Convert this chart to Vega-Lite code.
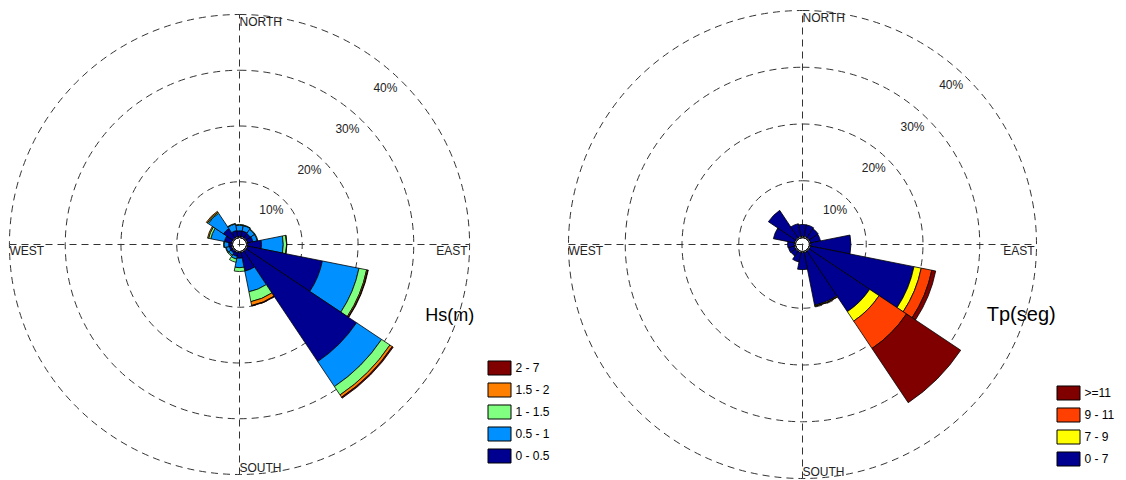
{
  "$schema": "https://vega.github.io/schema/vega-lite/v6.json",
  "autosize": {"type": "pad"},
  "padding": {"left": 7.5, "top": 8.5, "right": 0, "bottom": 0},
  "background": "white",
  "config": {"view": {"stroke": null}, "font": "Liberation Sans"},
  "bounds": "flush",
  "center": true,
  "spacing": 99,
  "datasets": {
    "hs": [
      {"dir": 0, "cls": "0 - 0.5", "ord": 1, "pct": 1.2}, {"dir": 0, "cls": "0.5 - 1", "ord": 2, "pct": 1.0}, {"dir": 0, "cls": "1 - 1.5", "ord": 3, "pct": 0.15},
      {"dir": 22.5, "cls": "0 - 0.5", "ord": 1, "pct": 1.2}, {"dir": 22.5, "cls": "0.5 - 1", "ord": 2, "pct": 1.0}, {"dir": 22.5, "cls": "1 - 1.5", "ord": 3, "pct": 0.1},
      {"dir": 45, "cls": "0 - 0.5", "ord": 1, "pct": 1.1}, {"dir": 45, "cls": "0.5 - 1", "ord": 2, "pct": 0.9}, {"dir": 45, "cls": "1 - 1.5", "ord": 3, "pct": 0.1},
      {"dir": 67.5, "cls": "0 - 0.5", "ord": 1, "pct": 1.2}, {"dir": 67.5, "cls": "0.5 - 1", "ord": 2, "pct": 0.8}, {"dir": 67.5, "cls": "1 - 1.5", "ord": 3, "pct": 0.1},
      {"dir": 90, "cls": "0 - 0.5", "ord": 1, "pct": 2.7}, {"dir": 90, "cls": "0.5 - 1", "ord": 2, "pct": 3.9}, {"dir": 90, "cls": "1 - 1.5", "ord": 3, "pct": 0.6}, {"dir": 90, "cls": "1.5 - 2", "ord": 4, "pct": 0.05},
      {"dir": 112.5, "cls": "0 - 0.5", "ord": 1, "pct": 13.9}, {"dir": 112.5, "cls": "0.5 - 1", "ord": 2, "pct": 6.7}, {"dir": 112.5, "cls": "1 - 1.5", "ord": 3, "pct": 1.4}, {"dir": 112.5, "cls": "1.5 - 2", "ord": 4, "pct": 0.2}, {"dir": 112.5, "cls": "2 - 7", "ord": 5, "pct": 0.1},
      {"dir": 135, "cls": "0 - 0.5", "ord": 1, "pct": 24.0}, {"dir": 135, "cls": "0.5 - 1", "ord": 2, "pct": 5.4}, {"dir": 135, "cls": "1 - 1.5", "ord": 3, "pct": 1.8}, {"dir": 135, "cls": "1.5 - 2", "ord": 4, "pct": 0.5}, {"dir": 135, "cls": "2 - 7", "ord": 5, "pct": 0.2},
      {"dir": 157.5, "cls": "0 - 0.5", "ord": 1, "pct": 3.6}, {"dir": 157.5, "cls": "0.5 - 1", "ord": 2, "pct": 3.8}, {"dir": 157.5, "cls": "1 - 1.5", "ord": 3, "pct": 1.8}, {"dir": 157.5, "cls": "1.5 - 2", "ord": 4, "pct": 0.7}, {"dir": 157.5, "cls": "2 - 7", "ord": 5, "pct": 0.1},
      {"dir": 180, "cls": "0 - 0.5", "ord": 1, "pct": 1.2}, {"dir": 180, "cls": "0.5 - 1", "ord": 2, "pct": 1.7}, {"dir": 180, "cls": "1 - 1.5", "ord": 3, "pct": 0.7},
      {"dir": 202.5, "cls": "0 - 0.5", "ord": 1, "pct": 0.9}, {"dir": 202.5, "cls": "0.5 - 1", "ord": 2, "pct": 0.5}, {"dir": 202.5, "cls": "1 - 1.5", "ord": 3, "pct": 0.6},
      {"dir": 225, "cls": "0 - 0.5", "ord": 1, "pct": 0.6}, {"dir": 225, "cls": "0.5 - 1", "ord": 2, "pct": 0.5}, {"dir": 225, "cls": "1 - 1.5", "ord": 3, "pct": 0.2},
      {"dir": 247.5, "cls": "0 - 0.5", "ord": 1, "pct": 0.6}, {"dir": 247.5, "cls": "0.5 - 1", "ord": 2, "pct": 0.6}, {"dir": 247.5, "cls": "1 - 1.5", "ord": 3, "pct": 0.1},
      {"dir": 270, "cls": "0 - 0.5", "ord": 1, "pct": 0.7}, {"dir": 270, "cls": "0.5 - 1", "ord": 2, "pct": 0.8}, {"dir": 270, "cls": "1 - 1.5", "ord": 3, "pct": 0.1},
      {"dir": 292.5, "cls": "0 - 0.5", "ord": 1, "pct": 1.5}, {"dir": 292.5, "cls": "0.5 - 1", "ord": 2, "pct": 2.5}, {"dir": 292.5, "cls": "1 - 1.5", "ord": 3, "pct": 0.4}, {"dir": 292.5, "cls": "1.5 - 2", "ord": 4, "pct": 0.2},
      {"dir": 315, "cls": "0 - 0.5", "ord": 1, "pct": 2.2}, {"dir": 315, "cls": "0.5 - 1", "ord": 2, "pct": 3.3}, {"dir": 315, "cls": "1 - 1.5", "ord": 3, "pct": 0.2}, {"dir": 315, "cls": "1.5 - 2", "ord": 4, "pct": 0.2},
      {"dir": 337.5, "cls": "0 - 0.5", "ord": 1, "pct": 1.3}, {"dir": 337.5, "cls": "0.5 - 1", "ord": 2, "pct": 1.2}, {"dir": 337.5, "cls": "1 - 1.5", "ord": 3, "pct": 0.1}
    ],
    "tp": [
      {"dir": 0, "cls": "0 - 7", "ord": 1, "pct": 2.3},
      {"dir": 22.5, "cls": "0 - 7", "ord": 1, "pct": 2.3},
      {"dir": 45, "cls": "0 - 7", "ord": 1, "pct": 2.1},
      {"dir": 67.5, "cls": "0 - 7", "ord": 1, "pct": 2.0},
      {"dir": 90, "cls": "0 - 7", "ord": 1, "pct": 7.3},
      {"dir": 112.5, "cls": "0 - 7", "ord": 1, "pct": 18.8}, {"dir": 112.5, "cls": "7 - 9", "ord": 2, "pct": 1.3}, {"dir": 112.5, "cls": "9 - 11", "ord": 3, "pct": 1.9}, {"dir": 112.5, "cls": ">=11", "ord": 4, "pct": 0.7},
      {"dir": 135, "cls": "0 - 7", "ord": 1, "pct": 13.0}, {"dir": 135, "cls": "7 - 9", "ord": 2, "pct": 2.0}, {"dir": 135, "cls": "9 - 11", "ord": 3, "pct": 5.8}, {"dir": 135, "cls": ">=11", "ord": 4, "pct": 11.5},
      {"dir": 157.5, "cls": "0 - 7", "ord": 1, "pct": 9.7}, {"dir": 157.5, "cls": "7 - 9", "ord": 2, "pct": 0.15}, {"dir": 157.5, "cls": "9 - 11", "ord": 3, "pct": 0.05},
      {"dir": 180, "cls": "0 - 7", "ord": 1, "pct": 3.2},
      {"dir": 202.5, "cls": "0 - 7", "ord": 1, "pct": 1.9},
      {"dir": 225, "cls": "0 - 7", "ord": 1, "pct": 1.2},
      {"dir": 247.5, "cls": "0 - 7", "ord": 1, "pct": 1.3},
      {"dir": 270, "cls": "0 - 7", "ord": 1, "pct": 1.4},
      {"dir": 292.5, "cls": "0 - 7", "ord": 1, "pct": 4.0},
      {"dir": 315, "cls": "0 - 7", "ord": 1, "pct": 6.0},
      {"dir": 337.5, "cls": "0 - 7", "ord": 1, "pct": 2.5}
    ]
  },
  "hconcat": [
    {
      "width": 460,
      "height": 460,
      "layer": [
        {
          "data": {"values": [{"ring": 10}, {"ring": 20}, {"ring": 30}, {"ring": 40}]},
          "mark": {"type": "arc", "filled": false, "stroke": "#333", "strokeWidth": 1, "strokeDash": [7, 5]},
          "encoding": {
            "theta": {"datum": 0, "type": "quantitative", "stack": null, "scale": {"type": "linear", "domain": [0, 360], "range": [0, 6.283185307179586], "zero": false}},
            "theta2": {"datum": 360},
            "radius": {"field": "ring", "type": "quantitative", "stack": null, "scale": {"type": "linear", "domain": [0, 40], "range": [7, 230], "zero": false}}
          }
        },
        {
          "data": {"values": [{}]},
          "mark": {"type": "rule", "stroke": "#333", "strokeWidth": 1, "strokeDash": [7, 5]},
          "encoding": {
            "x": {"datum": -40, "type": "quantitative", "scale": {"domain": [-40, 40]}, "axis": null},
            "x2": {"datum": 40},
            "y": {"datum": 0, "type": "quantitative", "scale": {"domain": [-40, 40]}, "axis": null}
          }
        },
        {
          "data": {"values": [{}]},
          "mark": {"type": "rule", "stroke": "#333", "strokeWidth": 1, "strokeDash": [7, 5]},
          "encoding": {
            "y": {"datum": -40, "type": "quantitative"},
            "y2": {"datum": 40},
            "x": {"datum": 0, "type": "quantitative"}
          }
        },
        {
          "data": {"name": "hs"},
          "transform": [
            {"stack": "pct", "groupby": ["dir"], "sort": [{"field": "ord", "order": "ascending"}], "as": ["r0", "r1"]}
          ],
          "mark": {"type": "arc", "stroke": "#000", "strokeWidth": 0.8, "thetaOffset": -0.19635, "theta2Offset": 0.19635},
          "encoding": {
            "theta": {"field": "dir", "type": "quantitative", "stack": null},
            "theta2": {"field": "dir"},
            "radius": {"field": "r0", "type": "quantitative", "stack": null},
            "radius2": {"field": "r1"},
            "color": {
              "field": "cls", "type": "nominal",
              "scale": {"domain": ["2 - 7", "1.5 - 2", "1 - 1.5", "0.5 - 1", "0 - 0.5"], "range": ["#800000", "#FF8000", "#80FF80", "#0090FF", "#000090"]},
              "legend": {"orient": "none", "legendX": 478, "legendY": 341.5, "title": null, "symbolType": "M-1,-0.61H1V0.61H-1Z", "symbolSize": 529, "symbolStrokeColor": "#000", "symbolStrokeWidth": 1, "symbolOpacity": 1, "labelFont": "Liberation Sans", "labelFontSize": 12, "labelColor": "#000", "rowPadding": 0, "padding": 0, "labelOffset": 4}
            }
          }
        },
        {
          "data": {"values": [{}]},
          "mark": {"type": "arc", "fill": "#fff", "stroke": "#000", "strokeWidth": 1},
          "encoding": {"theta": {"datum": 0, "stack": null}, "theta2": {"datum": 360}, "radius": {"datum": 0.2, "stack": null}}
        },
        {
          "data": {"values": [{"p": 10, "lab": "10%"}, {"p": 20, "lab": "20%"}, {"p": 30, "lab": "30%"}, {"p": 40, "lab": "40%"}]},
          "mark": {"type": "text", "fontSize": 12, "color": "#222", "radiusOffset": -16},
          "encoding": {"theta": {"datum": 43, "stack": null}, "radius": {"field": "p", "type": "quantitative", "stack": null}, "text": {"field": "lab"}}
        },
        {
          "data": {"values": [{}]},
          "mark": {"type": "text", "text": "NORTH", "fontSize": 12, "color": "#222", "align": "left", "baseline": "top", "dy": 2},
          "encoding": {"theta": {"datum": 0, "stack": null}, "radius": {"datum": 40, "stack": null}}
        },
        {
          "data": {"values": [{}]},
          "mark": {"type": "text", "text": "WEST", "fontSize": 12, "color": "#222", "align": "left", "baseline": "top", "dy": 1},
          "encoding": {"theta": {"datum": 270, "stack": null}, "radius": {"datum": 40, "stack": null}}
        },
        {
          "data": {"values": [{}]},
          "mark": {"type": "text", "text": "EAST", "fontSize": 12, "color": "#222", "align": "right", "baseline": "top", "dy": 1, "dx": -2},
          "encoding": {"theta": {"datum": 90, "stack": null}, "radius": {"datum": 40, "stack": null}}
        },
        {
          "data": {"values": [{}]},
          "mark": {"type": "text", "text": "SOUTH", "fontSize": 12, "color": "#222", "align": "left", "baseline": "alphabetic", "dy": -3},
          "encoding": {"theta": {"datum": 180, "stack": null}, "radius": {"datum": 40, "stack": null}}
        },
        {
          "data": {"values": [{}]},
          "mark": {"type": "text", "text": "Hs(m)", "fontSize": 18, "color": "#000", "align": "left", "baseline": "middle"},
          "encoding": {"x": {"datum": 32.3}, "y": {"datum": -12.5}}
        }
      ]
    },
    {
      "width": 468,
      "height": 468,
      "layer": [
        {
          "data": {"values": [{"ring": 10}, {"ring": 20}, {"ring": 30}, {"ring": 40}]},
          "mark": {"type": "arc", "filled": false, "stroke": "#333", "strokeWidth": 1, "strokeDash": [7, 5]},
          "encoding": {
            "theta": {"datum": 0, "type": "quantitative", "stack": null, "scale": {"type": "linear", "domain": [0, 360], "range": [0, 6.283185307179586], "zero": false}},
            "theta2": {"datum": 360},
            "radius": {"field": "ring", "type": "quantitative", "stack": null, "scale": {"type": "linear", "domain": [0, 40], "range": [7, 234], "zero": false}}
          }
        },
        {
          "data": {"values": [{}]},
          "mark": {"type": "rule", "stroke": "#333", "strokeWidth": 1, "strokeDash": [7, 5]},
          "encoding": {
            "x": {"datum": -40, "type": "quantitative", "scale": {"domain": [-40, 40]}, "axis": null},
            "x2": {"datum": 40},
            "y": {"datum": 0, "type": "quantitative", "scale": {"domain": [-40, 40]}, "axis": null}
          }
        },
        {
          "data": {"values": [{}]},
          "mark": {"type": "rule", "stroke": "#333", "strokeWidth": 1, "strokeDash": [7, 5]},
          "encoding": {
            "y": {"datum": -40, "type": "quantitative"},
            "y2": {"datum": 40},
            "x": {"datum": 0, "type": "quantitative"}
          }
        },
        {
          "data": {"name": "tp"},
          "transform": [
            {"stack": "pct", "groupby": ["dir"], "sort": [{"field": "ord", "order": "ascending"}], "as": ["r0", "r1"]}
          ],
          "mark": {"type": "arc", "stroke": "#000", "strokeWidth": 0.8, "thetaOffset": -0.19635, "theta2Offset": 0.19635},
          "encoding": {
            "theta": {"field": "dir", "type": "quantitative", "stack": null},
            "theta2": {"field": "dir"},
            "radius": {"field": "r0", "type": "quantitative", "stack": null},
            "radius2": {"field": "r1"},
            "color": {
              "field": "cls", "type": "nominal",
              "scale": {"domain": [">=11", "9 - 11", "7 - 9", "0 - 7"], "range": ["#800000", "#FF4000", "#FFFF00", "#000090"]},
              "legend": {"orient": "none", "legendX": 488, "legendY": 370.5, "title": null, "symbolType": "M-1,-0.61H1V0.61H-1Z", "symbolSize": 529, "symbolStrokeColor": "#000", "symbolStrokeWidth": 1, "symbolOpacity": 1, "labelFont": "Liberation Sans", "labelFontSize": 12, "labelColor": "#000", "rowPadding": 0, "padding": 0, "labelOffset": 4}
            }
          }
        },
        {
          "data": {"values": [{}]},
          "mark": {"type": "arc", "fill": "#fff", "stroke": "#000", "strokeWidth": 1},
          "encoding": {"theta": {"datum": 0, "stack": null}, "theta2": {"datum": 360}, "radius": {"datum": 0.2, "stack": null}}
        },
        {
          "data": {"values": [{"p": 10, "lab": "10%"}, {"p": 20, "lab": "20%"}, {"p": 30, "lab": "30%"}, {"p": 40, "lab": "40%"}]},
          "mark": {"type": "text", "fontSize": 12, "color": "#222", "radiusOffset": -16},
          "encoding": {"theta": {"datum": 43, "stack": null}, "radius": {"field": "p", "type": "quantitative", "stack": null}, "text": {"field": "lab"}}
        },
        {
          "data": {"values": [{}]},
          "mark": {"type": "text", "text": "NORTH", "fontSize": 12, "color": "#222", "align": "left", "baseline": "top", "dy": 2},
          "encoding": {"theta": {"datum": 0, "stack": null}, "radius": {"datum": 40, "stack": null}}
        },
        {
          "data": {"values": [{}]},
          "mark": {"type": "text", "text": "WEST", "fontSize": 12, "color": "#222", "align": "left", "baseline": "top", "dy": 1},
          "encoding": {"theta": {"datum": 270, "stack": null}, "radius": {"datum": 40, "stack": null}}
        },
        {
          "data": {"values": [{}]},
          "mark": {"type": "text", "text": "EAST", "fontSize": 12, "color": "#222", "align": "right", "baseline": "top", "dy": 1, "dx": -2},
          "encoding": {"theta": {"datum": 90, "stack": null}, "radius": {"datum": 40, "stack": null}}
        },
        {
          "data": {"values": [{}]},
          "mark": {"type": "text", "text": "SOUTH", "fontSize": 12, "color": "#222", "align": "left", "baseline": "alphabetic", "dy": -3},
          "encoding": {"theta": {"datum": 180, "stack": null}, "radius": {"datum": 40, "stack": null}}
        },
        {
          "data": {"values": [{}]},
          "mark": {"type": "text", "text": "Tp(seg)", "fontSize": 20, "color": "#000", "align": "left", "baseline": "middle"},
          "encoding": {"x": {"datum": 31.5}, "y": {"datum": -12}}
        }
      ]
    }
  ],
  "resolve": {
    "scale": {"color": "independent", "radius": "independent", "theta": "independent", "x": "independent", "y": "independent"},
    "legend": {"color": "independent"}
  }
}
